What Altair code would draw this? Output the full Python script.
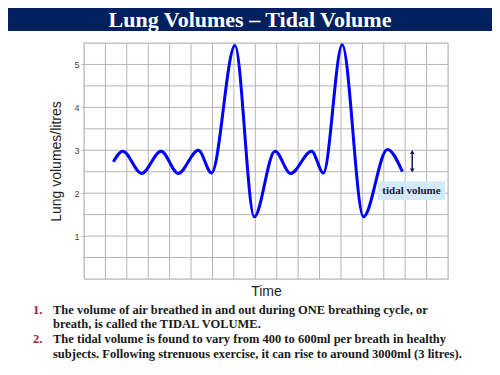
import altair as alt
import pandas as pd

# ---- data ----
time_pts = [1.37, 1.81, 2.69, 3.60, 4.40, 5.34, 5.96, 7.05, 7.95, 8.92, 9.65, 10.63, 11.18, 12.06, 13.05, 14.17, 14.87]
volume_pts = [2.73, 2.98, 2.46, 2.98, 2.46, 3.00, 2.47, 5.44, 1.45, 2.98, 2.46, 2.98, 2.47, 5.46, 1.45, 3.02, 2.50]

x_grid = list(range(0, 18))
y_grid = [0, 0.5, 1, 1.5, 2, 2.5, 3, 3.5, 4, 4.5, 5, 5.5]
y_labels = [1, 2, 3, 4, 5]

title_text = "Lung Volumes \u2013 Tidal Volume"
item_numbers = ["1.", "", "2.", ""]
item_lines = [
    "The volume of air breathed in and out during ONE breathing cycle, or",
    "breath, is called the TIDAL VOLUME.",
    "The tidal volume is found to vary from 400 to 600ml per breath in healthy",
    "subjects. Following strenuous exercise, it can rise to around 3000ml (3 litres).",
]

tidal_top = 2.96
tidal_bottom = 2.53
tidal_x = 15.33
label_box = {"x": [13.73], "x2": [16.86], "y": [2.28], "y2": [1.84]}

W, H = 364, 236
GRID = "#b5b5b5"

df = pd.DataFrame({"t": time_pts, "v": volume_pts})
one = pd.DataFrame({"a": [0]})

xs = alt.Scale(domain=[0, 17], nice=False, zero=False)
ys = alt.Scale(domain=[0, 5.5], nice=False)

x_axis = alt.Axis(labels=False, ticks=False, domain=False, grid=False,
                  title="Time", titleFont="Liberation Sans", titleFontSize=14,
                  titleFontWeight="normal", titleColor="#222222", titlePadding=5)
y_axis = alt.Axis(values=y_labels, format="d", domain=False, grid=False,
                  tickColor=GRID, tickSize=3, labelFont="Liberation Sans",
                  labelFontSize=9, labelColor="#444444", labelPadding=2,
                  title="Lung volumes/litres", titleFont="Liberation Sans",
                  titleFontSize=14, titleFontWeight="normal",
                  titleColor="#222222", titlePadding=10)


def X(f):
    return alt.X(f, scale=xs, axis=x_axis, title="Time")


def Y(f):
    return alt.Y(f, scale=ys, axis=y_axis, title="Lung volumes/litres")


vgrid = alt.Chart(pd.DataFrame({"g": x_grid})).mark_rule(color=GRID, strokeWidth=1).encode(x=X("g:Q"))
hgrid = alt.Chart(pd.DataFrame({"g": y_grid})).mark_rule(color=GRID, strokeWidth=1).encode(y=Y("g:Q"))

line = alt.Chart(df).mark_line(interpolate="monotone", color="#0000ff", strokeWidth=3).encode(
    x=X("t:Q"), y=Y("v:Q"))

# tidal volume arrow
arrow_df = pd.DataFrame({"x": [tidal_x], "y": [tidal_top], "y2": [tidal_bottom]})
arrow = alt.Chart(arrow_df).mark_rule(color="#1a1a5a", strokeWidth=1.5).encode(
    x=X("x:Q"), y=Y("y:Q"), y2="y2:Q")
head_up = alt.Chart(arrow_df).mark_point(shape="triangle-up", filled=True, size=22, color="#1a1a5a", opacity=1).encode(
    x=X("x:Q"), y=Y("y:Q"))
head_down = alt.Chart(arrow_df).mark_point(shape="triangle-down", filled=True, size=22, color="#1a1a5a", opacity=1).encode(
    x=X("x:Q"), y=Y("y2:Q"))

box_df = pd.DataFrame(label_box)
box = alt.Chart(box_df).mark_rect(fill="#d3eafa").encode(
    x=X("x:Q"), x2="x2:Q", y=Y("y:Q"), y2="y2:Q")
box_text = alt.Chart(pd.DataFrame({"x": [(label_box["x"][0] + label_box["x2"][0]) / 2],
                                   "y": [(label_box["y"][0] + label_box["y2"][0]) / 2],
                                   "s": ["tidal volume"]})).mark_text(
    font="Liberation Serif", fontWeight="bold", fontSize=11, color="#1b1b3a", baseline="middle").encode(
    x=X("x:Q"), y=Y("y:Q"), text="s:N")

# slide title bar
bar = alt.Chart(one).mark_rect(fill="#002060").encode(
    x=alt.value(-76), x2=alt.value(408), y=alt.value(-35), y2=alt.value(-12))
title = alt.Chart(one).mark_text(font="Liberation Serif", fontWeight="bold", fontSize=22,
                                 color="white", baseline="middle", align="center").encode(
    x=alt.value(166), y=alt.value(-23), text=alt.value(title_text))

layers = [bar, title, vgrid, hgrid, line, box, box_text, arrow, head_up, head_down]

line_y = [267, 281, 296, 311]
for num, txt, yy in zip(item_numbers, item_lines, line_y):
    if num:
        layers.append(alt.Chart(one).mark_text(font="Liberation Serif", fontWeight="bold", fontSize=12.5,
                                               color="#a8203c", align="left", baseline="middle").encode(
            x=alt.value(-51), y=alt.value(yy), text=alt.value(num)))
    layers.append(alt.Chart(one).mark_text(font="Liberation Serif", fontWeight="bold", fontSize=12.5,
                                           color="#1a1a1a", align="left", baseline="middle").encode(
        x=alt.value(-31), y=alt.value(yy), text=alt.value(txt)))

chart = alt.layer(*layers).properties(
    width=W, height=H,
    autosize=alt.AutoSizeParams(type="none"),
    padding={"left": 76, "top": 35, "right": 44, "bottom": 88},
).configure_view(stroke=GRID).configure(background="white")

chart.save("out.html", embed_options={"renderer": "svg", "actions": False})
